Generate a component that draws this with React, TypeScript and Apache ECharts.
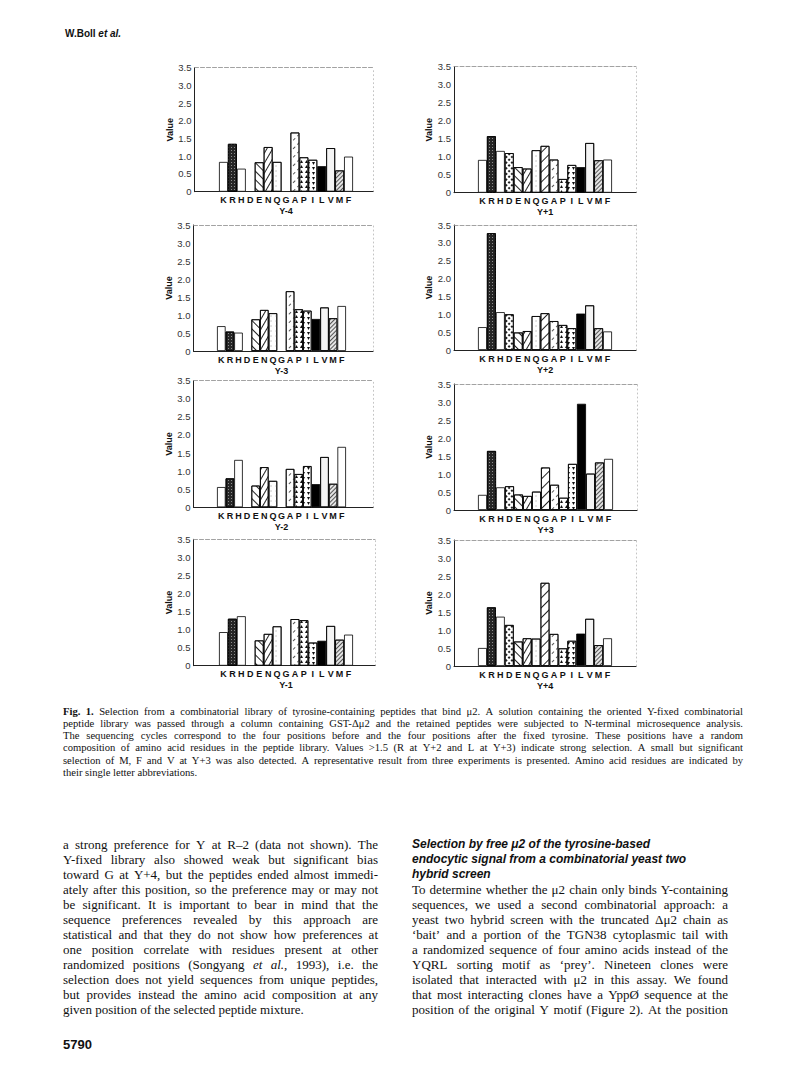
import React, { useEffect, useRef } from 'react';
import * as echarts from 'echarts';

// ---------------- data ----------------
const aminoAcids = ['K', 'R', 'H', 'D', 'E', 'N', 'Q', 'G', 'A', 'P', 'I', 'L', 'V', 'M', 'F'];
const yMinus4 = [0.84, 1.35, 0.65, null, 0.83, 1.26, 0.84, null, 1.67, 0.97, 0.9, 0.72, 1.23, 0.6, 0.99];
const yMinus3 = [0.69, 0.54, 0.51, null, 0.88, 1.14, 1.05, null, 1.66, 1.16, 1.12, 0.89, 1.21, 0.91, 1.25];
const yMinus2 = [0.56, 0.8, 1.31, null, 0.6, 1.11, 0.73, null, 1.06, 0.92, 1.14, 0.64, 1.39, 0.65, 1.67];
const yMinus1 = [0.93, 1.3, 1.37, null, 0.7, 0.88, 1.09, null, 1.29, 1.26, 0.64, 0.69, 1.1, 0.72, 0.86];
const yPlus1 = [0.91, 1.57, 1.16, 1.1, 0.71, 0.67, 1.18, 1.3, 0.92, 0.38, 0.77, 0.71, 1.38, 0.9, 0.92];
const yPlus2 = [0.64, 3.27, 1.06, 1.0, 0.49, 0.53, 0.95, 1.03, 0.81, 0.7, 0.61, 1.02, 1.25, 0.61, 0.52];
const yPlus3 = [0.42, 1.64, 0.63, 0.66, 0.43, 0.39, 0.51, 1.18, 0.7, 0.34, 1.28, 2.95, 1.01, 1.32, 1.42];
const yPlus4 = [0.5, 1.63, 1.37, 1.14, 0.68, 0.77, 0.76, 2.31, 0.89, 0.49, 0.7, 0.9, 1.31, 0.58, 0.77];
const panelTitles = ['Y-4', 'Y-3', 'Y-2', 'Y-1', 'Y+1', 'Y+2', 'Y+3', 'Y+4'];
const panelValues = [yMinus4, yMinus3, yMinus2, yMinus1, yPlus1, yPlus2, yPlus3, yPlus4];
const yAxisMax = 3.5;
const yAxisStep = 0.5;
const yAxisName = 'Value';

const headerAuthor = 'W.Boll';
const headerEtAl = 'et al.';
const pageNumber = '5790';

const captionLines = [
  '**Fig.** **1.** Selection from a combinatorial library of tyrosine-containing peptides that bind μ2. A solution containing the oriented Y-fixed combinatorial',
  'peptide library was passed through a column containing GST-Δμ2 and the retained peptides were subjected to N-terminal microsequence analysis.',
  'The sequencing cycles correspond to the four positions before and the four positions after the fixed tyrosine. These positions have a random',
  'composition of amino acid residues in the peptide library. Values >1.5 (R at Y+2 and L at Y+3) indicate strong selection. A small but significant',
  'selection of M, F and V at Y+3 was also detected. A representative result from three experiments is presented. Amino acid residues are indicated by',
  'their single letter abbreviations.',
];

const leftColumnLines = [
  'a strong preference for Y at R–2 (data not shown). The',
  'Y-fixed library also showed weak but significant bias',
  'toward G at Y+4, but the peptides ended almost immedi-',
  'ately after this position, so the preference may or may not',
  'be significant. It is important to bear in mind that the',
  'sequence preferences revealed by this approach are',
  'statistical and that they do not show how preferences at',
  'one position correlate with residues present at other',
  'randomized positions (Songyang *et* *al.,* 1993), i.e. the',
  'selection does not yield sequences from unique peptides,',
  'but provides instead the amino acid composition at any',
  'given position of the selected peptide mixture.',
];

const rightHeadingLines = [
  'Selection by free μ2 of the tyrosine-based',
  'endocytic signal from a combinatorial yeast two',
  'hybrid screen',
];

const rightColumnLines = [
  'To determine whether the μ2 chain only binds Y-containing',
  'sequences, we used a second combinatorial approach: a',
  'yeast two hybrid screen with the truncated Δμ2 chain as',
  '‘bait’ and a portion of the TGN38 cytoplasmic tail with',
  'a randomized sequence of four amino acids instead of the',
  'YQRL sorting motif as ‘prey’. Nineteen clones were',
  'isolated that interacted with μ2 in this assay. We found',
  'that most interacting clones have a YppØ sequence at the',
  'position of the original Y motif (Figure 2). At the position',
];

// ---------------- layout & styles ----------------
const panelBoxes = [
  { axisX: 194.5, right: 373, top: 67.7, bottom: 191.7, barL: 219, barR: 353 },
  { axisX: 193.5, right: 373, top: 225, bottom: 351, barL: 217, barR: 346 },
  { axisX: 193.5, right: 373, top: 380.7, bottom: 507.3, barL: 217, barR: 346 },
  { axisX: 193.5, right: 375, top: 539.3, bottom: 665.7, barL: 219, barR: 353 },
  { axisX: 454, right: 636, top: 66.7, bottom: 192.7, barL: 478, barR: 612 },
  { axisX: 454, right: 636, top: 225, bottom: 350, barL: 478, barR: 612 },
  { axisX: 454, right: 637, top: 384, bottom: 510, barL: 478, barR: 613 },
  { axisX: 454, right: 636, top: 540, bottom: 666, barL: 478, barR: 612 },
];

const SERIF = '"Liberation Serif", "Times New Roman", serif';
const SANS = '"Liberation Sans", Arial, Helvetica, sans-serif';
const INK = '#111';

const lineHatch = (rotation: number, gap: number, color = '#222', dash: number[] = [1, 0]) => ({
  symbol: 'rect',
  symbolSize: 1,
  dashArrayX: dash,
  dashArrayY: [1, gap],
  rotation,
  color,
});

const patternFor: Record<string, any> = {
  K: { color: '#fff' },
  R: {
    color: '#262626',
    decal: { symbol: 'rect', symbolSize: 1, dashArrayX: [1, 2], dashArrayY: [1, 2], color: '#8c8c8c' },
  },
  H: { color: '#fff' },
  D: {
    color: '#fff',
    decal: { symbol: 'rect', symbolSize: 1, dashArrayX: [2, 1.5], dashArrayY: [2, 1.5], rotation: Math.PI / 4, color: '#222' },
  },
  E: { color: '#fff', decal: lineHatch(Math.PI / 4, 5) },
  N: { color: '#fff', decal: lineHatch(-Math.PI / 3, 4) },
  Q: {
    color: '#fff',
    decal: { symbol: 'circle', symbolSize: 0.6, dashArrayX: [2, 3], dashArrayY: [2, 3], color: '#b0b0b0' },
  },
  G: { color: '#fff', decal: lineHatch(-Math.PI / 4, 6) },
  A: { color: '#fff', decal: lineHatch(-Math.PI / 4, 5, '#555', [3, 3]) },
  P: {
    color: '#fff',
    decal: { symbol: 'triangle', symbolSize: 1, dashArrayX: [3, 1.5], dashArrayY: [3, 1.5], color: '#111' },
  },
  I: {
    color: '#fff',
    decal: { symbol: 'triangle', symbolSize: 1, dashArrayX: [3, 2], dashArrayY: [3, 2], rotation: Math.PI, color: '#111' },
  },
  L: { color: '#000' },
  V: {
    color: '#f4f4f4',
    decal: { symbol: 'circle', symbolSize: 1, dashArrayX: [1, 1.5], dashArrayY: [1, 1.5], color: '#7a7a7a' },
  },
  M: { color: '#e4e4e4', decal: lineHatch(-Math.PI / 4, 2, '#555') },
  F: { color: '#fff' },
};

// ---------------- text helpers ----------------
let measureCtx: CanvasRenderingContext2D | null = null;
function textWidth(t: string, font: string): number {
  if (!measureCtx) measureCtx = document.createElement('canvas').getContext('2d');
  if (!measureCtx) return t.length * 5;
  measureCtx.font = font;
  return measureCtx.measureText(t).width;
}

function parseToken(tok: string) {
  let bold = false;
  let italic = false;
  let t = tok;
  if (t.length > 4 && t.startsWith('**') && t.endsWith('**')) {
    bold = true;
    t = t.slice(2, -2);
  } else if (t.length > 2 && t.startsWith('*') && t.endsWith('*')) {
    italic = true;
    t = t.slice(1, -1);
  }
  return { t, bold, italic };
}

type LineOpts = { family: string; size: number; justify: boolean; bold?: boolean; italic?: boolean };

function layoutLine(line: string, x: number, y: number, width: number, o: LineOpts) {
  const toks = line.split(' ').map(parseToken).map((w) => ({
    ...w,
    bold: w.bold || !!o.bold,
    italic: w.italic || !!o.italic,
  }));
  const fontOf = (w: { bold: boolean; italic: boolean }) =>
    `${w.italic ? 'italic ' : ''}${w.bold ? 'bold ' : ''}${o.size}px ${o.family}`;
  const widths = toks.map((w) => textWidth(w.t, fontOf(w)));
  const space = textWidth(' ', fontOf({ bold: !!o.bold, italic: !!o.italic }));
  const total = widths.reduce((a, b) => a + b, 0);
  let gap = space;
  if (o.justify && toks.length > 1) gap = Math.max(1, (width - total) / (toks.length - 1));
  const els: any[] = [];
  let cx = x;
  toks.forEach((w, k) => {
    els.push({
      type: 'text',
      x: cx,
      y,
      silent: true,
      style: {
        text: w.t,
        fontFamily: o.family,
        fontSize: o.size,
        fontWeight: w.bold ? 'bold' : 'normal',
        fontStyle: w.italic ? 'italic' : 'normal',
        fill: INK,
        align: 'left',
        verticalAlign: 'middle',
      },
    });
    cx += widths[k] + gap;
  });
  return els;
}

function buildGraphics() {
  const els: any[] = [];
  // running header
  const headFont = `bold 10px ${SANS}`;
  const authorW = textWidth(headerAuthor + ' ', headFont);
  els.push({
    type: 'text', x: 65, y: 33, silent: true,
    style: { text: headerAuthor, fontFamily: SANS, fontSize: 10, fontWeight: 'bold', fill: INK, verticalAlign: 'middle' },
  });
  els.push({
    type: 'text', x: 65 + authorW, y: 33, silent: true,
    style: { text: headerEtAl, fontFamily: SANS, fontSize: 10, fontWeight: 'bold', fontStyle: 'italic', fill: INK, verticalAlign: 'middle' },
  });
  // caption
  captionLines.forEach((ln, i) => {
    els.push(
      ...layoutLine(ln, 63, 711 + i * 12.3, 680, {
        family: SERIF, size: 10.6, justify: i < captionLines.length - 1,
      })
    );
  });
  // left body column
  leftColumnLines.forEach((ln, i) => {
    els.push(
      ...layoutLine(ln, 63, 844 + i * 15, 315, {
        family: SERIF, size: 13, justify: i < leftColumnLines.length - 1,
      })
    );
  });
  // right heading
  rightHeadingLines.forEach((ln, i) => {
    els.push(
      ...layoutLine(ln, 412, 844 + i * 15, 316, {
        family: SANS, size: 12, justify: false, bold: true, italic: true,
      })
    );
  });
  // right body column
  rightColumnLines.forEach((ln, i) => {
    els.push(
      ...layoutLine(ln, 412, 844 + (i + rightHeadingLines.length) * 15, 316, {
        family: SERIF, size: 13, justify: true,
      })
    );
  });
  // page number
  els.push({
    type: 'text', x: 63, y: 1044, silent: true,
    style: { text: pageNumber, fontFamily: SANS, fontSize: 13, fontWeight: 'bold', fill: INK, verticalAlign: 'middle' },
  });
  return els;
}

// ---------------- chart option ----------------
function buildOption(): any {
  const grid: any[] = [];
  const xAxis: any[] = [];
  const yAxis: any[] = [];
  const series: any[] = [];

  panelValues.forEach((vals, i) => {
    const b = panelBoxes[i];
    const h = b.bottom - b.top;
    grid.push({ left: b.axisX, top: b.top, width: b.right - b.axisX, height: h, outerBoundsMode: 'none' });
    grid.push({ left: b.barL, top: b.top, width: b.barR - b.barL, height: h, outerBoundsMode: 'none' });
    const outer = 2 * i;
    const inner = 2 * i + 1;

    // outer frame axes
    xAxis.push({
      gridIndex: outer, type: 'value', min: 0, max: 1, position: 'bottom',
      axisLine: { show: true, onZero: false, lineStyle: { color: '#222', width: 1 } },
      axisTick: { show: false }, axisLabel: { show: false }, splitLine: { show: false },
    });
    xAxis.push({
      gridIndex: outer, type: 'value', min: 0, max: 1, position: 'top',
      axisLine: { show: true, onZero: false, lineStyle: { color: '#8a8a8a', width: 0.8, type: [4, 2] } },
      axisTick: { show: false }, axisLabel: { show: false }, splitLine: { show: false },
    });
    // inner categorical axis with the residue letters and panel title
    xAxis.push({
      gridIndex: inner, type: 'category', data: aminoAcids,
      axisLine: { show: false }, axisTick: { show: false }, splitLine: { show: false },
      axisLabel: { interval: 0, fontSize: 9, fontWeight: 'bold', fontFamily: SANS, color: INK, margin: 4 },
      name: panelTitles[i], nameLocation: 'middle', nameGap: 15,
      nameTextStyle: { fontSize: 9, fontWeight: 'bold', fontFamily: SANS, color: INK },
    });

    yAxis.push({
      gridIndex: outer, type: 'value', min: 0, max: yAxisMax, interval: yAxisStep, position: 'left',
      axisLine: { show: true, onZero: false, lineStyle: { color: '#222', width: 1 } },
      axisTick: { show: false }, splitLine: { show: false },
      axisLabel: {
        fontSize: 9.5, fontFamily: SANS, color: '#333', margin: 3,
        formatter: (v: number) => (v === 0 ? '0' : v.toFixed(1)),
      },
      name: yAxisName, nameLocation: 'middle', nameGap: 20,
      nameTextStyle: { fontSize: 9, fontWeight: 'bold', fontFamily: SANS, color: INK },
    });
    yAxis.push({
      gridIndex: outer, type: 'value', min: 0, max: yAxisMax, position: 'right',
      axisLine: { show: true, onZero: false, lineStyle: { color: '#b5b5b5', width: 0.8, type: [1, 3] } },
      axisTick: { show: false }, axisLabel: { show: false }, splitLine: { show: false },
    });
    yAxis.push({ gridIndex: inner, type: 'value', min: 0, max: yAxisMax, show: false, splitLine: { show: false } });

    series.push({
      type: 'bar',
      name: panelTitles[i],
      xAxisIndex: 3 * i + 2,
      yAxisIndex: 3 * i + 2,
      barCategoryGap: '0%',
      silent: true,
      data: vals.map((v, k) =>
        v == null
          ? null
          : {
              value: v,
              itemStyle: { ...patternFor[aminoAcids[k]], borderColor: '#000', borderWidth: 0.8 },
            }
      ),
    });
  });

  return {
    animation: false,
    backgroundColor: '#fff',
    grid,
    xAxis,
    yAxis,
    series,
    graphic: { elements: buildGraphics() },
  };
}

export default function App() {
  const ref = useRef<HTMLDivElement>(null);
  useEffect(() => {
    if (!ref.current) return;
    const chart = echarts.init(ref.current, null, { renderer: 'svg', width: 800, height: 1082 });
    chart.setOption(buildOption());
    return () => chart.dispose();
  }, []);
  return (
    <div
      ref={ref}
      style={{ position: 'absolute', left: 0, top: 0, width: 800, height: 1082, background: '#fff' }}
    />
  );
}
